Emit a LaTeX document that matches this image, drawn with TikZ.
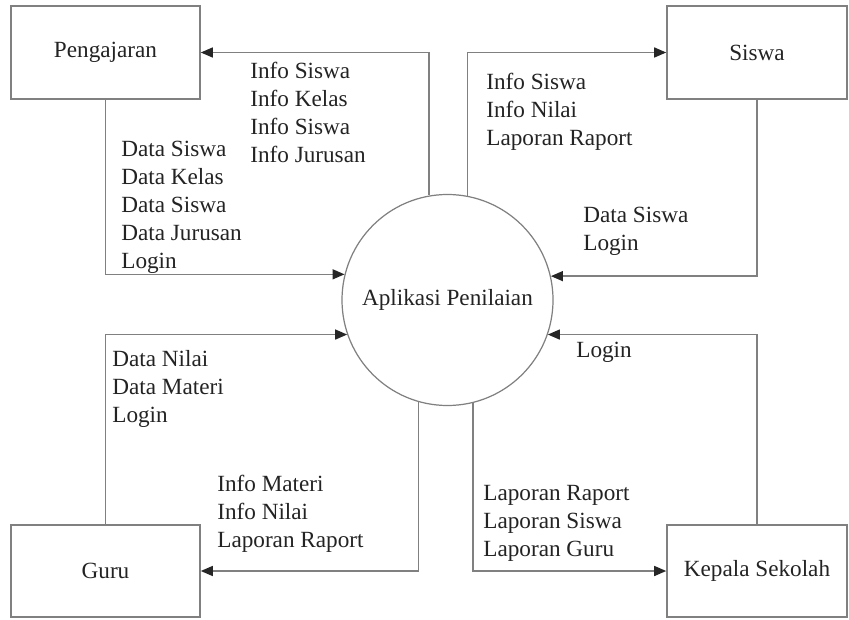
\documentclass[tikz,border=0pt]{standalone}
\usepackage{fontspec}
\setmainfont{Liberation Serif}
\usetikzlibrary{arrows.meta}
\definecolor{linegray}{RGB}{128,128,128}
\definecolor{textgray}{RGB}{35,35,35}
\tikzset{
  flowarrow/.style={-{Triangle[length=2.4mm, width=2mm, color=black!85]}, draw=linegray, line width=0.8pt},
  entnode/.style={draw=linegray, line width=0.9pt, minimum width=3.78cm, minimum height=1.86cm, align=center},
  procnode/.style={draw=linegray, line width=0.7pt, circle, minimum size=4.22cm, inner sep=0pt, align=center},
  flowlabel/.style={anchor=west, align=left, inner sep=0pt}
}

\begin{document}
\begin{tikzpicture}[every node/.style={font=\fontsize{13.2}{15.9}\selectfont, text=textgray}]
  \useasboundingbox (0,0) rectangle (16.98,12.38);
  \node[procnode] (app) at (8.95,6.38) {Aplikasi Penilaian};
  \node[entnode] (peng) at (2.11,11.33) {Pengajaran};
  \node[entnode, minimum width=3.6cm] (sis) at (15.14,11.33) {Siswa};
  \node[entnode, minimum height=1.84cm] (guru) at (2.11,0.96) {Guru};
  \node[entnode, minimum width=3.6cm, minimum height=1.84cm] (kep) at (15.14,0.96) {Kepala Sekolah};

  % alur data
  \draw[flowarrow] (app.100.6) |- (peng.east);
  \draw[flowarrow] (peng.south) |- (app.166.8);
  \draw[flowarrow] (app.79.4) |- (sis.west);
  \draw[flowarrow] (sis.south) |- (app.13.2);
  \draw[flowarrow] (guru.north) |- (app.199.4);
  \draw[flowarrow] (app.254.9) |- (guru.east);
  \draw[flowarrow] (kep.north) |- (app.341.2);
  \draw[flowarrow] (app.284.5) |- (kep.west);

  \node[flowlabel] (lpeng1) at (5.0,10.13) {Info Siswa\\Info Kelas\\Info Siswa\\Info Jurusan};
  \node[flowlabel] (lpeng2) at (2.42,8.23) {Data Siswa\\Data Kelas\\Data Siswa\\Data Jurusan\\Login};
  \node[flowlabel] (lsis1) at (9.72,10.14) {Info Siswa\\Info Nilai\\Laporan Raport};
  \node[flowlabel] (lsis2) at (11.66,7.75) {Data Siswa\\Login};
  \node[flowlabel] (lguru1) at (2.24,4.6) {Data Nilai\\Data Materi\\Login};
  \node[flowlabel] (lguru2) at (4.34,2.1) {Info Materi\\Info Nilai\\Laporan Raport};
  \node[flowlabel] (lkep1) at (11.52,5.34) {Login};
  \node[flowlabel] (lkep2) at (9.66,1.91) {Laporan Raport\\Laporan Siswa\\Laporan Guru};
\end{tikzpicture}
\end{document}
